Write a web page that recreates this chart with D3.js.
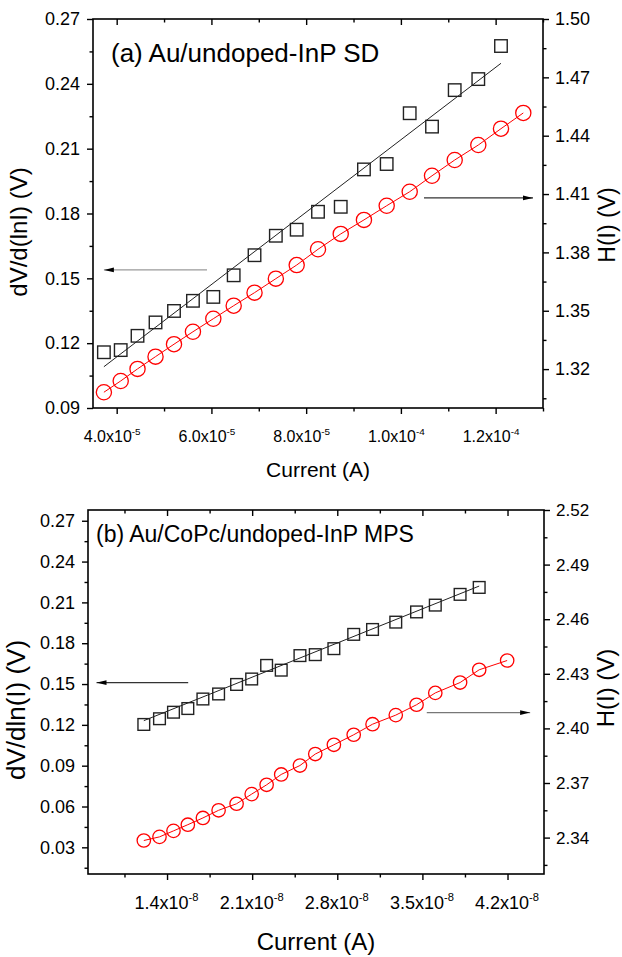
<!DOCTYPE html>
<html>
<head>
<meta charset="utf-8">
<script src="https://cdn.jsdelivr.net/npm/d3@7"></script>
<style>
  body { margin: 0; background: #fff; }
  svg { display: block; font-family: Arial, "Liberation Sans", Helvetica, sans-serif; }
</style>
</head>
<body>
<svg id="chart" width="622" height="957"></svg>
<script>
// ---------- Panel (a): Au/undoped-InP SD ----------
const currentA = [3.73e-5, 4.085e-5, 4.44e-5, 4.82e-5, 5.21e-5, 5.61e-5, 6.04e-5, 6.47e-5, 6.91e-5, 7.36e-5,
                  7.80e-5, 8.25e-5, 8.73e-5, 9.22e-5, 9.70e-5, 1.0186e-4, 1.0657e-4, 1.1136e-4, 1.1634e-4, 1.2113e-4, 1.2584e-4];
const dVdlnIA = [0.1158, 0.1168, 0.1234, 0.1296, 0.1349, 0.1396, 0.1414, 0.1514, 0.1607, 0.1697,
                 0.1725, 0.1808, 0.1831, 0.2004, 0.2029, 0.2264, 0.2202, 0.2371, 0.2422, 0.2575];
const hA = [1.3081, 1.3139, 1.3201, 1.3264, 1.3328, 1.3392, 1.3459, 1.3526, 1.3593, 1.3665,
            1.3735, 1.3816, 1.3895, 1.3967, 1.4040, 1.4112, 1.4194, 1.4275, 1.4352, 1.4436, 1.4517];
const fitCurrentA = [3.73e-5, 1.2113e-4];
const fitDVA = [0.1091, 0.2495];
const xTicksA = [4e-5, 6e-5, 8e-5, 1e-4, 1.2e-4];
const xMantA = ["4.0", "6.0", "8.0", "1.0", "1.2"];
const xExpA = ["-5", "-5", "-5", "-4", "-4"];
const xMinorA = [5e-5, 7e-5, 9e-5, 1.1e-4, 1.3e-4];
const yLTicksA = [0.09, 0.12, 0.15, 0.18, 0.21, 0.24, 0.27];
const yLMinorA = [0.105, 0.135, 0.165, 0.195, 0.225, 0.255];
const yRTicksA = [1.32, 1.35, 1.38, 1.41, 1.44, 1.47, 1.50];
const yRMinorA = [1.305, 1.335, 1.365, 1.395, 1.425, 1.455, 1.485];
// annotation arrows: [x0, x1, y] in data units
const arrowLeftA = [5.907e-5, 3.73e-5, 0.1539];
const arrowRightA = [1.0488e-4, 1.2789e-4, 1.408];

// ---------- Panel (b): Au/CoPc/undoped-InP MPS ----------
const currentB = [1.209e-8, 1.338e-8, 1.453e-8, 1.571e-8, 1.695e-8, 1.824e-8, 1.972e-8, 2.096e-8, 2.219e-8, 2.339e-8,
                  2.493e-8, 2.619e-8, 2.772e-8, 2.935e-8, 3.090e-8, 3.281e-8, 3.452e-8, 3.606e-8, 3.810e-8, 3.967e-8, 4.197e-8];
const dVdlnIB = [0.1203, 0.1245, 0.1293, 0.1320, 0.1390, 0.1427, 0.1497, 0.1537, 0.1637, 0.1602,
                 0.1709, 0.1716, 0.1760, 0.1865, 0.1901, 0.1955, 0.2030, 0.2080, 0.2159, 0.2210];
const hB = [2.3384, 2.3404, 2.3437, 2.3471, 2.3508, 2.3550, 2.3586, 2.3639, 2.3690, 2.3747,
            2.3796, 2.3859, 2.3910, 2.3965, 2.4023, 2.4073, 2.4130, 2.4195, 2.4252, 2.4322, 2.4373];
const fitCurrentB = [1.209e-8, 3.967e-8];
const fitDVB = [0.1231, 0.2220];
const xTicksB = [1.4e-8, 2.1e-8, 2.8e-8, 3.5e-8, 4.2e-8];
const xMantB = ["1.4", "2.1", "2.8", "3.5", "4.2"];
const xExpB = ["-8", "-8", "-8", "-8", "-8"];
const xMinorB = [1.05e-8, 1.75e-8, 2.45e-8, 3.15e-8, 3.85e-8];
const yLTicksB = [0.03, 0.06, 0.09, 0.12, 0.15, 0.18, 0.21, 0.24, 0.27];
const yLMinorB = [0.015, 0.045, 0.075, 0.105, 0.135, 0.165, 0.195, 0.225, 0.255];
const yRTicksB = [2.34, 2.37, 2.40, 2.43, 2.46, 2.49, 2.52];
const yRMinorB = [2.325, 2.355, 2.385, 2.415, 2.445, 2.475, 2.505];
const arrowLeftB = [1.574e-8, 0.820e-8, 0.1511];
const arrowRightB = [3.536e-8, 4.386e-8, 2.4087];

const svg = d3.select("#chart");
svg.append("rect").attr("width", 622).attr("height", 957).attr("fill", "#fff");

const defs = svg.append("defs");
defs.append("marker")
  .attr("id", "head")
  .attr("viewBox", "0 0 10 6")
  .attr("refX", 10).attr("refY", 3)
  .attr("markerWidth", 10).attr("markerHeight", 6)
  .attr("markerUnits", "userSpaceOnUse")
  .attr("orient", "auto")
  .append("path").attr("d", "M0,0.6 L10,3 L0,5.4 Z").attr("fill", "#000");

function drawPanel(cfg) {
  const g = svg.append("g");
  const x = d3.scaleLinear().domain(cfg.xDomain).range([cfg.left, cfg.right]);
  const yL = d3.scaleLinear().domain(cfg.yLDomain).range([cfg.bottom, cfg.top]);
  const yR = d3.scaleLinear().domain(cfg.yRDomain).range([cfg.bottom, cfg.top]);

  // fit line through dV/dlnI
  g.append("line")
    .attr("x1", x(cfg.fitI[0])).attr("y1", yL(cfg.fitV[0]))
    .attr("x2", x(cfg.fitI[1])).attr("y2", yL(cfg.fitV[1]))
    .attr("stroke", "#222").attr("stroke-width", 1);

  // H(I) line
  g.append("path")
    .datum(cfg.current.map((c, i) => [c, cfg.h[i]]))
    .attr("fill", "none").attr("stroke", "#ff0000").attr("stroke-width", 1)
    .attr("d", d3.line().x(d => x(d[0])).y(d => yR(d[1])));

  // dV/dlnI squares
  const s = cfg.sq;
  g.selectAll(null).data(cfg.dv).enter().append("rect")
    .attr("x", (d, i) => x(cfg.current[i]) - s / 2)
    .attr("y", d => yL(d) - s / 2)
    .attr("width", s).attr("height", s)
    .attr("fill", "none").attr("stroke", "#222").attr("stroke-width", 1.4);

  // H(I) circles
  g.selectAll(null).data(cfg.h).enter().append("circle")
    .attr("cx", (d, i) => x(cfg.current[i]))
    .attr("cy", d => yR(d))
    .attr("r", cfg.r)
    .attr("fill", "none").attr("stroke", "#ff0000").attr("stroke-width", 1.3);

  // arrows
  g.append("line")
    .attr("x1", x(cfg.arrowL[0])).attr("x2", x(cfg.arrowL[1]))
    .attr("y1", yL(cfg.arrowL[2])).attr("y2", yL(cfg.arrowL[2]))
    .attr("stroke", cfg.arrowLColor).attr("stroke-width", 1.3)
    .attr("marker-end", "url(#head)");
  g.append("line")
    .attr("x1", x(cfg.arrowR[0])).attr("x2", x(cfg.arrowR[1]))
    .attr("y1", yR(cfg.arrowR[2])).attr("y2", yR(cfg.arrowR[2]))
    .attr("stroke", cfg.arrowRColor).attr("stroke-width", 1.3)
    .attr("marker-end", "url(#head)");

  // frame
  g.append("rect")
    .attr("x", cfg.left).attr("y", cfg.top)
    .attr("width", cfg.right - cfg.left).attr("height", cfg.bottom - cfg.top)
    .attr("fill", "none").attr("stroke", "#000").attr("stroke-width", 1.6);

  const styleAxis = sel => {
    sel.select(".domain").remove();
    sel.selectAll(".tick line").attr("stroke", "#000").attr("stroke-width", 1.4);
  };

  // left axis
  const la = g.append("g").attr("transform", `translate(${cfg.left},0)`)
    .call(d3.axisLeft(yL).tickValues(cfg.yLTicks).tickSize(6).tickPadding(7).tickFormat(d3.format(".2f")));
  styleAxis(la);
  la.selectAll("text").attr("font-size", cfg.yLFont).attr("fill", "#000");
  g.append("g").attr("transform", `translate(${cfg.left},0)`)
    .call(d3.axisLeft(yL).tickValues(cfg.yLMinor).tickSize(3.5).tickFormat(""))
    .call(styleAxis);

  // right axis
  const ra = g.append("g").attr("transform", `translate(${cfg.right},0)`)
    .call(d3.axisRight(yR).tickValues(cfg.yRTicks).tickSize(6).tickPadding(6).tickFormat(d3.format(".2f")));
  styleAxis(ra);
  ra.selectAll("text").attr("font-size", cfg.yRFont).attr("fill", "#000");
  g.append("g").attr("transform", `translate(${cfg.right},0)`)
    .call(d3.axisRight(yR).tickValues(cfg.yRMinor).tickSize(3.5).tickFormat(""))
    .call(styleAxis);

  // bottom axis
  const ba = g.append("g").attr("transform", `translate(0,${cfg.bottom})`)
    .call(d3.axisBottom(x).tickValues(cfg.xTicks).tickSize(6).tickFormat(""));
  styleAxis(ba);
  ba.selectAll(".tick").append("text")
    .attr("y", cfg.xLabelBase).attr("dx", cfg.xLabelShift)
    .attr("text-anchor", "middle").attr("font-size", cfg.xFont).attr("fill", "#000")
    .each(function (d, i) {
      const t = d3.select(this);
      t.append("tspan").text(cfg.xMant[i] + "x10");
      t.append("tspan").attr("dy", -cfg.xFont * 0.42).attr("font-size", cfg.xFont * 0.62).text(cfg.xExp[i]);
    });
  g.append("g").attr("transform", `translate(0,${cfg.bottom})`)
    .call(d3.axisBottom(x).tickValues(cfg.xMinor).tickSize(3.5).tickFormat(""))
    .call(styleAxis);

  // top axis (ticks pointing inward)
  g.append("g").attr("transform", `translate(0,${cfg.top})`)
    .call(d3.axisBottom(x).tickValues(cfg.xTicks).tickSize(6).tickFormat(""))
    .call(styleAxis);
  g.append("g").attr("transform", `translate(0,${cfg.top})`)
    .call(d3.axisBottom(x).tickValues(cfg.xMinor).tickSize(3.5).tickFormat(""))
    .call(styleAxis);

  // panel title
  g.append("text").attr("x", cfg.titleX).attr("y", cfg.titleY)
    .attr("font-size", cfg.titleFont).attr("fill", "#000").text(cfg.title);

  // axis titles
  g.append("text")
    .attr("transform", `translate(${cfg.xTitle[0]},${cfg.xTitle[1]})`)
    .attr("text-anchor", "middle").attr("font-size", cfg.xTitle[2]).attr("fill", "#000")
    .text("Current (A)");
  g.append("text")
    .attr("transform", `translate(${cfg.yLTitle[0]},${cfg.yLTitle[1]}) rotate(-90)`)
    .attr("text-anchor", "middle").attr("font-size", cfg.yLTitle[2]).attr("fill", "#000")
    .text(cfg.yLText);
  g.append("text")
    .attr("transform", `translate(${cfg.yRTitle[0]},${cfg.yRTitle[1]}) rotate(-90)`)
    .attr("text-anchor", "middle").attr("font-size", cfg.yRTitle[2]).attr("fill", "#000")
    .text("H(I) (V)");
}

drawPanel({
  left: 93, right: 543, top: 19, bottom: 408,
  xDomain: [3.5e-5, 1.3e-4], yLDomain: [0.09, 0.27], yRDomain: [1.30, 1.50],
  current: currentA, dv: dVdlnIA, h: hA, fitI: fitCurrentA, fitV: fitDVA,
  sq: 12.5, r: 7.6,
  arrowL: arrowLeftA, arrowR: arrowRightA, arrowLColor: "#9a9a9a", arrowRColor: "#333",
  xTicks: xTicksA, xMinor: xMinorA, xMant: xMantA, xExp: xExpA,
  yLTicks: yLTicksA, yLMinor: yLMinorA, yRTicks: yRTicksA, yRMinor: yRMinorA,
  yLFont: 18, yRFont: 18, xFont: 16, xLabelBase: 34, xLabelShift: -5,
  title: "(a) Au/undoped-InP SD", titleX: 111, titleY: 62, titleFont: 26,
  xTitle: [318, 477, 21], yLText: "dV/d(lnI) (V)", yLTitle: [27, 232, 24], yRTitle: [615, 225, 23]
});

drawPanel({
  left: 88, right: 544, top: 510, bottom: 874,
  xDomain: [0.75e-8, 4.5e-8], yLDomain: [0.0104, 0.2779], yRDomain: [2.32, 2.52],
  current: currentB, dv: dVdlnIB, h: hB, fitI: fitCurrentB, fitV: fitDVB,
  sq: 11.7, r: 6.7,
  arrowL: arrowLeftB, arrowR: arrowRightB, arrowLColor: "#333", arrowRColor: "#777",
  xTicks: xTicksB, xMinor: xMinorB, xMant: xMantB, xExp: xExpB,
  yLTicks: yLTicksB, yLMinor: yLMinorB, yRTicks: yRTicksB, yRMinor: yRMinorB,
  yLFont: 18, yRFont: 17, xFont: 18, xLabelBase: 35, xLabelShift: -1,
  title: "(b) Au/CoPc/undoped-InP MPS", titleX: 96, titleY: 542, titleFont: 23,
  xTitle: [316, 950, 24], yLText: "dV/dln(I) (V)", yLTitle: [25, 710, 26], yRTitle: [614, 688, 24]
});
</script>
</body>
</html>
